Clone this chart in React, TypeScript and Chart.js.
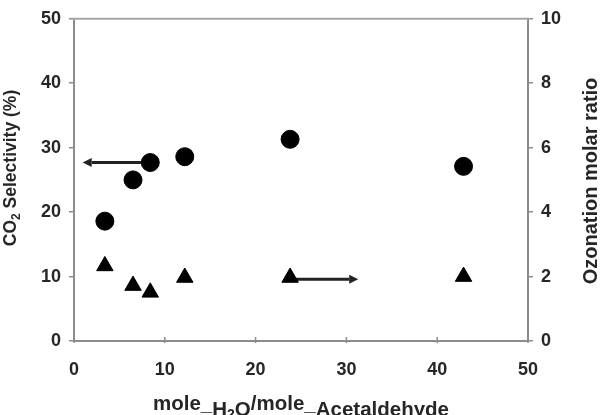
import React, { useEffect, useRef } from "react";
import { Chart, registerables } from "chart.js";
Chart.register(...registerables);

// Data
const waterRatio = [3.4, 6.5, 8.4, 12.2, 23.8, 42.9];
const co2Selectivity = [18.6, 25.0, 27.7, 28.6, 31.3, 27.1];
const ozonationRatio = [2.33, 1.72, 1.51, 1.97, 1.97, 2.0];

const xTicks = [0, 10, 20, 30, 40, 50];
const leftTicks = [0, 10, 20, 30, 40, 50];
const rightTicks = [0, 2, 4, 6, 8, 10];

// Arrows: [fromX, fromY, toX, toY]
const leftArrow = [8.4, 27.7, 0.96, 27.7];
const rightArrow = [23.8, 1.92, 31.3, 1.92];

const AXIS_COLOR = "#8c8c8c";
const TEXT_COLOR = "#262626";
const FONT = "'Liberation Sans', Arial, sans-serif";

type Seg = { t: string; s: number; dy: number };

function drawRich(ctx: CanvasRenderingContext2D, segs: Seg[], cx: number, cy: number, rot: number) {
  ctx.save();
  ctx.translate(cx, cy);
  ctx.rotate(rot);
  ctx.textBaseline = "alphabetic";
  ctx.textAlign = "left";
  let total = 0;
  const widths = segs.map((g) => {
    ctx.font = `bold ${g.s}px ${FONT}`;
    const w = ctx.measureText(g.t).width;
    total += w;
    return w;
  });
  let x = -total / 2;
  segs.forEach((g, i) => {
    ctx.font = `bold ${g.s}px ${FONT}`;
    ctx.fillText(g.t, x, g.dy);
    x += widths[i];
  });
  ctx.restore();
}

function drawArrow(ctx: CanvasRenderingContext2D, x1: number, y1: number, x2: number, y2: number) {
  const ang = Math.atan2(y2 - y1, x2 - x1);
  const hl = 9;
  const hw = 4.5;
  const bx = x2 - Math.cos(ang) * hl;
  const by = y2 - Math.sin(ang) * hl;
  ctx.save();
  ctx.strokeStyle = "#222";
  ctx.fillStyle = "#222";
  ctx.lineWidth = 3;
  ctx.beginPath();
  ctx.moveTo(x1, y1);
  ctx.lineTo(bx, by);
  ctx.stroke();
  ctx.beginPath();
  ctx.moveTo(x2, y2);
  ctx.lineTo(bx - Math.sin(ang) * hw, by + Math.cos(ang) * hw);
  ctx.lineTo(bx + Math.sin(ang) * hw, by - Math.cos(ang) * hw);
  ctx.closePath();
  ctx.fill();
  ctx.restore();
}

const decorPlugin = {
  id: "decor",
  beforeDatasetsDraw(chart: any) {
    const ctx = chart.ctx as CanvasRenderingContext2D;
    const sx = chart.scales.x;
    const sy = chart.scales.y;
    const sy1 = chart.scales.y1;
    drawArrow(
      ctx,
      sx.getPixelForValue(leftArrow[0]),
      sy.getPixelForValue(leftArrow[1]),
      sx.getPixelForValue(leftArrow[2]),
      sy.getPixelForValue(leftArrow[3])
    );
    drawArrow(
      ctx,
      sx.getPixelForValue(rightArrow[0]),
      sy1.getPixelForValue(rightArrow[1]),
      sx.getPixelForValue(rightArrow[2]),
      sy1.getPixelForValue(rightArrow[3])
    );
  },
  afterDraw(chart: any) {
    const ctx = chart.ctx as CanvasRenderingContext2D;
    const { left, right, top, bottom } = chart.chartArea;
    const sx = chart.scales.x;
    ctx.save();
    // top frame line
    ctx.strokeStyle = "#a6a6a6";
    ctx.lineWidth = 2;
    ctx.beginPath();
    ctx.moveTo(left - 1, top);
    ctx.lineTo(right + 1, top);
    ctx.stroke();
    // inward x ticks
    ctx.strokeStyle = AXIS_COLOR;
    ctx.lineWidth = 1.5;
    xTicks.forEach((v) => {
      const px = sx.getPixelForValue(v);
      ctx.beginPath();
      ctx.moveTo(px, bottom + 2);
      ctx.lineTo(px, bottom - 4);
      ctx.stroke();
    });
    ctx.restore();

    ctx.save();
    ctx.fillStyle = TEXT_COLOR;
    // left title
    drawRich(
      ctx,
      [
        { t: "CO", s: 17.5, dy: 0 },
        { t: "2", s: 12, dy: 4 },
        { t: " Selectivity (%)", s: 17.5, dy: 0 },
      ],
      15.5,
      168,
      -Math.PI / 2
    );
    // right title
    drawRich(ctx, [{ t: "Ozonation molar ratio", s: 20, dy: 0 }], 596.5, 181, -Math.PI / 2);
    // x title
    drawRich(
      ctx,
      [
        { t: "mole_", s: 20.5, dy: 0 },
        { t: "H", s: 20.5, dy: 6 },
        { t: "2", s: 14, dy: 9 },
        { t: "O", s: 20.5, dy: 6 },
        { t: "/mole_", s: 20.5, dy: 0 },
        { t: "Acetaldehyde", s: 20.5, dy: 6 },
      ],
      301,
      410,
      0
    );
    ctx.restore();
  },
};

export default function App() {
  const canvasRef = useRef<HTMLCanvasElement | null>(null);

  useEffect(() => {
    const canvas = canvasRef.current;
    if (!canvas) return;
    const tickFont = { family: FONT, size: 18, weight: "bold" as const };
    const chart = new Chart(canvas, {
      type: "scatter",
      data: {
        datasets: [
          {
            label: "CO2 Selectivity",
            data: waterRatio.map((x, i) => ({ x, y: co2Selectivity[i] })),
            yAxisID: "y",
            pointStyle: "circle",
            pointRadius: 9,
            pointBackgroundColor: "#000",
            pointBorderColor: "#000",
            pointBorderWidth: 1,
            showLine: false,
          },
          {
            label: "Ozonation molar ratio",
            data: waterRatio.map((x, i) => ({ x, y: ozonationRatio[i] })),
            yAxisID: "y1",
            pointStyle: "triangle",
            pointRadius: 9.5,
            pointBackgroundColor: "#000",
            pointBorderColor: "#000",
            pointBorderWidth: 1,
            showLine: false,
          },
        ],
      },
      options: {
        animation: false,
        responsive: false,
        layout: { padding: { top: 15, left: 0, right: 0, bottom: 0 } },
        plugins: { legend: { display: false }, tooltip: { enabled: false } },
        scales: {
          x: {
            type: "linear",
            min: 0,
            max: 50,
            afterBuildTicks: (s: any) => {
              s.ticks = xTicks.map((v) => ({ value: v }));
            },
            afterFit: (s: any) => {
              s.height = 74;
            },
            grid: { display: false, drawTicks: false },
            border: { display: true, color: AXIS_COLOR, width: 2 },
            ticks: { font: tickFont, color: TEXT_COLOR, padding: 18, maxRotation: 0 },
          },
          y: {
            type: "linear",
            position: "left",
            min: 0,
            max: 50,
            afterBuildTicks: (s: any) => {
              s.ticks = leftTicks.map((v) => ({ value: v }));
            },
            afterFit: (s: any) => {
              s.width = 74;
            },
            grid: { display: true, drawOnChartArea: false, drawTicks: true, tickLength: 5, color: AXIS_COLOR, lineWidth: 1.5 },
            border: { display: true, color: AXIS_COLOR, width: 2 },
            ticks: { font: tickFont, color: TEXT_COLOR, padding: 8 },
          },
          y1: {
            type: "linear",
            position: "right",
            min: 0,
            max: 10,
            afterBuildTicks: (s: any) => {
              s.ticks = rightTicks.map((v) => ({ value: v }));
            },
            afterFit: (s: any) => {
              s.width = 72;
            },
            grid: { display: true, drawOnChartArea: false, drawTicks: true, tickLength: 5, color: AXIS_COLOR, lineWidth: 1.5 },
            border: { display: true, color: AXIS_COLOR, width: 2 },
            ticks: { font: tickFont, color: TEXT_COLOR, padding: 8 },
          },
        },
      },
      plugins: [decorPlugin],
    });
    return () => chart.destroy();
  }, []);

  return (
    <div style={{ position: "absolute", left: 0, top: 0, width: 600, height: 415, background: "#fff" }}>
      <canvas ref={canvasRef} width={600} height={415} style={{ display: "block" }} />
    </div>
  );
}
